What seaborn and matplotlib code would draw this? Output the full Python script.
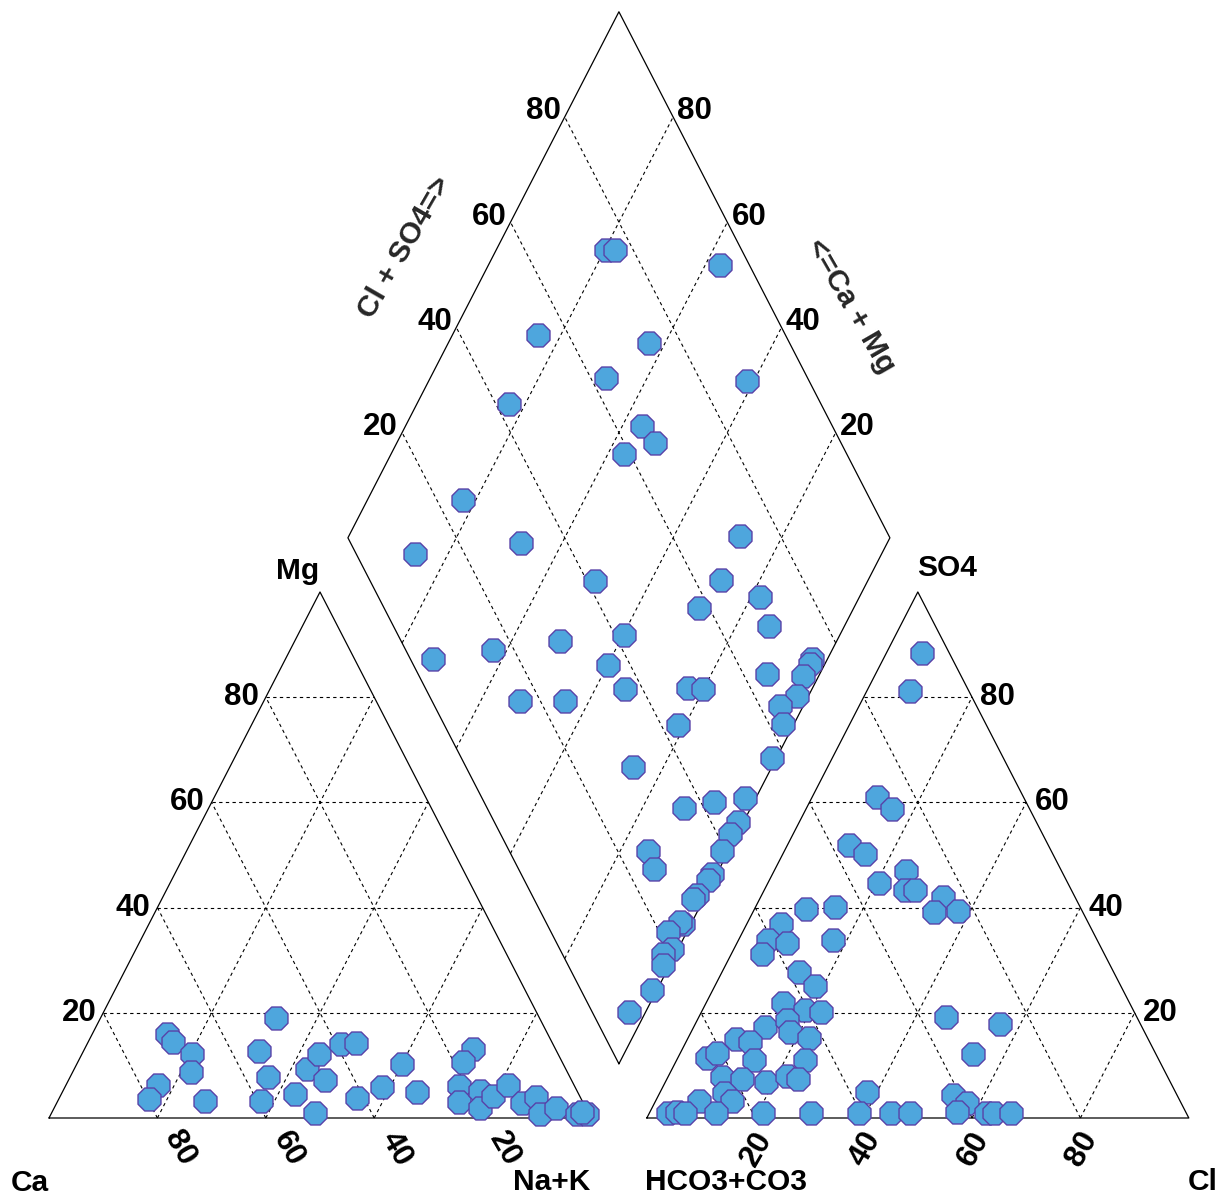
import numpy as np
import pandas as pd
import matplotlib
matplotlib.use("Agg")
import matplotlib.pyplot as plt
import seaborn as sns

# cation triangle, % meq/l
cat_mg = [16.0, 14.4, 12.2, 8.7, 6.3, 3.6, 3.2, 19.0, 12.7, 7.8, 3.2, 4.6, 9.3, 12.2, 7.2,
          1.0, 14.1, 14.3, 3.8, 5.9, 10.3, 4.9, 13.1, 10.6, 6.1, 3.0, 5.1, 1.9, 4.2, 6.3,
          2.9, 4.0, 0.8, 1.9, 0.8, 0.8, 1.1]
cat_nak = [13.8, 15.7, 20.3, 21.8, 17.0, 16.7, 27.2, 32.4, 32.4, 36.5, 37.5, 43.1, 43.0, 43.7, 47.3,
           48.6, 46.8, 49.5, 54.9, 58.5, 60.0, 65.4, 71.7, 71.1, 72.6, 74.1, 77.0, 78.6, 79.8, 81.5,
           85.8, 87.9, 90.2, 92.6, 97.0, 98.9, 97.8]

# anion triangle, % meq/l
an_so4 = [88.4, 81.2, 61.0, 58.7, 51.9, 50.2, 47.0, 44.7, 43.3, 43.3, 42.0, 39.2, 39.4, 39.7, 40.1,
          36.9, 33.8, 33.3, 33.8, 31.2, 27.8, 25.1, 21.9, 20.5, 20.2, 19.2, 17.9, 12.2, 17.3, 18.6,
          15.0, 14.4, 16.3, 15.2, 11.4, 12.4, 11.0, 11.0, 7.8, 7.4, 6.8, 8.0, 7.4, 4.8, 3.2,
          3.2, 4.9, 4.4, 2.9,
          1.0, 1.2, 1.0, 1.0, 1.0, 1.0, 1.0, 1.0, 1.0, 1.2, 1.0, 1.0, 1.0]
an_cl = [6.5, 7.9, 11.9, 15.9, 11.3, 15.1, 24.3, 20.5, 26.0, 27.8, 33.6, 33.4, 37.7, 9.5, 14.6,
         6.3, 5.4, 9.2, 17.4, 5.6, 14.1, 18.5, 14.2, 18.9, 22.0, 45.6, 56.2, 54.0, 13.1, 16.5,
         8.9, 11.8, 18.2, 22.3, 5.4, 6.7, 14.2, 23.7, 9.9, 13.8, 18.6, 21.8, 24.2, 11.8, 14.1,
         8.0, 38.1, 54.3, 57.6,
         3.4, 5.0, 6.5, 12.2, 20.9, 29.8, 38.6, 44.5, 48.0, 56.7, 62.0, 63.5, 66.7]

# diamond field
dia_clso4 = [75.0, 76.7, 94.5, 54.4, 74.0, 62.8, 88.5, 42.4, 64.8, 65.6, 58.9, 24.8, 31.4, 72.5, 10.9,
             41.5, 64.8, 70.4, 58.1, 69.3, 41.7, 29.3, 4.2, 16.1, 35.9, 36.7, 48.4, 51.1, 64.4, 74.1,
             73.2, 70.8, 67.8, 63.7, 62.6, 57.3, 43.1, 30.8, 24.5, 16.2, 36.3, 42.4, 48.5, 45.0, 42.3,
             39.2, 25.6, 25.0, 35.2, 33.9, 30.4, 29.4, 25.1, 24.8, 21.5, 20.7, 18.5, 17.5, 13.1, 6.7]
dia_camg = [79.8, 78.1, 57.3, 84.2, 63.0, 67.6, 41.3, 83.0, 56.4, 52.4, 57.1, 82.4, 67.6, 27.9, 86.1,
            50.3, 27.2, 18.4, 28.5, 13.9, 39.9, 51.1, 72.8, 62.5, 39.9, 34.5, 23.0, 20.1, 9.8, 2.9,
            2.8, 3.0, 2.2, 4.3, 2.0, 0.9, 21.3, 25.6, 44.5, 52.8, 12.3, 7.4, 2.1, 1.0, 1.3,
            1.2, 14.8, 12.0, 0.8, 1.1, 1.6, 2.0, 1.5, 2.2, 3.5, 1.1, 2.3, 1.3, 0.9, 3.1]

tick_vals = [20, 40, 60, 80]

H = np.sqrt(3) / 2
GAP = 0.103


def cation_xy(nak, mg):
    nak, mg = np.asarray(nak) / 100, np.asarray(mg) / 100
    return nak + mg / 2, mg * H


def anion_xy(cl, so4):
    cl, so4 = np.asarray(cl) / 100, np.asarray(so4) / 100
    return 1 + GAP + cl + so4 / 2, so4 * H


def diamond_xy(clso4, camg):
    a, m = np.asarray(clso4) / 100, np.asarray(camg) / 100
    return 1 + GAP / 2 + 0.5 * (a - m), GAP * H + H * (a + m)


sns.set_theme(style="white")
plt.rcParams["font.family"] = ["Liberation Sans", "DejaVu Sans"]

fig = plt.figure(figsize=(12.28, 11.98), dpi=100)
ax = fig.add_axes([0, 0, 1, 1])
ax.set_xlim(-49 / 542, (1228 - 49) / 542)
ax.set_ylim((1118 - 1198) / 607.4, 1118 / 607.4)
ax.axis("off")

solid = dict(color="black", lw=0.9, zorder=1)
dash = dict(color="black", lw=0.8, ls=(0, (3, 3)), zorder=1)

# outlines
ax.plot([0, 1, 0.5, 0], [0, 0, H, 0], **solid)
ax.plot([1 + GAP, 2 + GAP, 1.5 + GAP, 1 + GAP], [0, 0, H, 0], **solid)
dx, dy = diamond_xy([0, 100, 100, 0, 0], [0, 0, 100, 100, 0])
ax.plot(dx, dy, **solid)

# grids
for t in tick_vals:
    f = t / 100
    for off in (0, 1 + GAP):
        ax.plot([off + f / 2, off + 1 - f / 2], [f * H, f * H], **dash)
        ax.plot([off + 1 - f, off + (1 - f) / 2], [0, (1 - f) * H], **dash)
        ax.plot([off + f, off + f + (1 - f) / 2], [0, (1 - f) * H], **dash)
    gx, gy = diamond_xy([t, t], [0, 100])
    ax.plot(gx, gy, **dash)
    gx, gy = diamond_xy([0, 100], [t, t])
    ax.plot(gx, gy, **dash)

# samples
pt = dict(marker="8", s=320, color="#4ea6dd", edgecolor="#5842a8", linewidth=1.0,
          zorder=3, legend=False, ax=ax)
cx, cy = cation_xy(cat_nak, cat_mg)
sns.scatterplot(x=cx, y=cy, **pt)
axx, ayy = anion_xy(an_cl, an_so4)
sns.scatterplot(x=axx, y=ayy, **pt)
px, py = diamond_xy(dia_clso4, dia_camg)
sns.scatterplot(x=px, y=py, **pt)

# tick labels
fs = 22.5
lab = dict(textcoords="offset points", fontsize=fs, fontweight="bold", color="black")
for t in tick_vals:
    f = t / 100
    ax.annotate(str(t), xy=(f / 2, f * H), xytext=(-5, 0), ha="right", va="center", **lab)
    ax.annotate(str(t), xy=(1 - f, 0), xytext=(16, -22), ha="center", va="center",
                rotation=-60, **lab)
    ax.annotate(str(t), xy=(1 + GAP + f, 0), xytext=(1, -22), ha="center", va="center",
                rotation=60, **lab)
    ax.annotate(str(t), xy=(2 + GAP - f / 2, f * H), xytext=(6, 0), ha="left", va="center", **lab)
    lx, ly = diamond_xy(t, 100)
    ax.annotate(str(t), xy=(lx, ly), xytext=(-3, 4), ha="right", va="center", **lab)
    rx, ry = diamond_xy(100, t)
    ax.annotate(str(t), xy=(rx, ry), xytext=(3, 4), ha="left", va="center", **lab)

# corner names
fs2 = 21.5
name = {**lab, "fontsize": fs2}
ax.annotate("Mg", xy=(0.5, H), xytext=(-16, 15), ha="center", va="center", **name)
ax.annotate("Ca", xy=(0, 0), xytext=(-14, -47), ha="center", va="center", **name)
ax.annotate("Na+K", xy=(1, 0), xytext=(-28, -46), ha="center", va="center", **name)
ax.annotate("SO4", xy=(1.5 + GAP, H), xytext=(21, 17), ha="center", va="center", **name)
ax.annotate("HCO3+CO3", xy=(1 + GAP, 0), xytext=(57, -46), ha="center", va="center", **name)
ax.annotate("Cl", xy=(2 + GAP, 0), xytext=(10, -46), ha="center", va="center", **name)

ax.text((405 - 49) / 542, (1118 - 247) / 607.4, "Cl + SO4=>", rotation=60, ha="center", va="center",
        fontsize=fs2, fontweight="bold")
ax.text((851 - 49) / 542, (1118 - 306) / 607.4, "<=Ca + Mg", rotation=-60, ha="center", va="center",
        fontsize=fs2, fontweight="bold")

fig.savefig("out.png", dpi=100, facecolor="white")
